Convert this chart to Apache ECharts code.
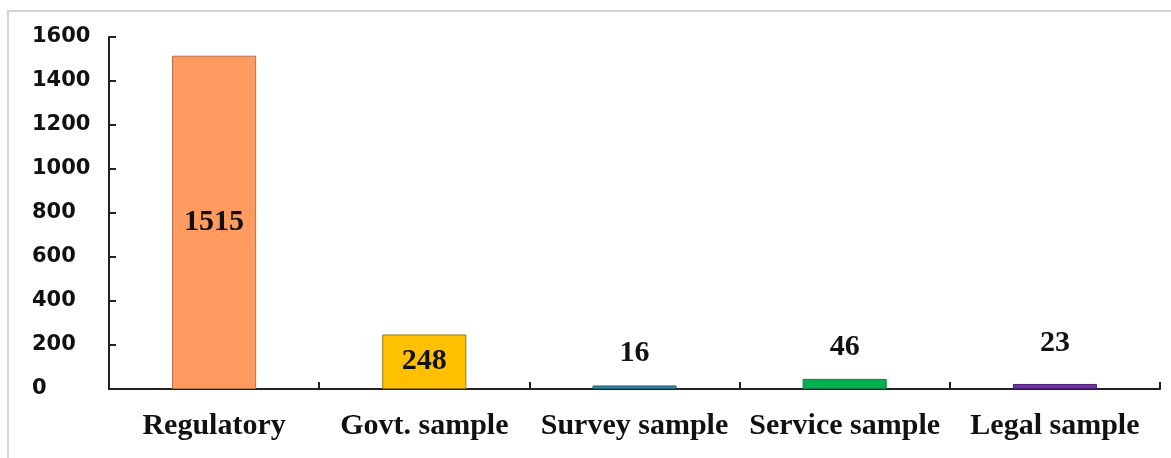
<!DOCTYPE html>
<html>
<head>
<meta charset="utf-8">
<script src="https://cdn.jsdelivr.net/npm/echarts@6/dist/echarts.min.js"></script>
<style>
  html, body { margin: 0; padding: 0; background: #fff; }
  #frame { position: absolute; left: 7px; top: 10px; width: 1164px; height: 448px;
           border-top: 2px solid #d4d4d4; border-left: 2px solid #d4d4d4; box-sizing: border-box; }
  #chart { position: absolute; left: 0; top: 0; width: 1171px; height: 458px; }
</style>
</head>
<body>
<div id="frame"></div>
<div id="chart"></div>
<script>
// Sample counts by source
const categories = ['Regulatory', 'Govt. sample', 'Survey sample', 'Service sample', 'Legal sample'];
const counts = [1515, 248, 16, 46, 23];
const yTicks = { min: 0, max: 1600, interval: 200 };

const fills   = ['#FF9A61', '#FFC000', '#2E87A4', '#00B050', '#7030A0'];
const borders = ['#B8704A', '#9A7A10', '#1F5F74', '#137A3D', '#4A2070'];

// Tall bars carry their value inside; short ones above the bar
const insideLimit = 200;

const chart = echarts.init(document.getElementById('chart'));

const seriesData = counts.map((v, i) => {
  const inside = v >= insideLimit;
  return {
    value: v,
    itemStyle: { color: fills[i], borderColor: borders[i], borderWidth: 1 },
    label: {
      show: true,
      position: inside ? 'inside' : 'top',
      distance: i === 4 ? 26 : 17
    }
  };
});

chart.setOption({
  animation: false,
  grid: { left: 109, right: 11, top: 37, bottom: 69, containLabel: false },
  xAxis: {
    type: 'category',
    data: categories,
    axisLine: { lineStyle: { color: '#222', width: 2 } },
    axisTick: { show: true, inside: true, length: 7, lineStyle: { color: '#222', width: 2 } },
    axisLabel: {
      interval: 0,
      margin: 22,
      color: '#111',
      fontFamily: '"Liberation Serif", "Times New Roman", serif',
      fontWeight: 'bold',
      fontSize: 30
    }
  },
  yAxis: {
    type: 'value',
    min: yTicks.min,
    max: yTicks.max,
    interval: yTicks.interval,
    splitLine: { show: false },
    axisLine: { show: true, lineStyle: { color: '#222', width: 2 } },
    axisTick: { show: true, inside: true, length: 7, lineStyle: { color: '#222', width: 2 } },
    axisLabel: {
      align: 'left',
      margin: 77,
      color: '#111',
      fontFamily: '"DejaVu Sans", Verdana, sans-serif',
      fontWeight: 'bold',
      fontSize: 21,
      formatter: v => String(v)
    }
  },
  series: [{
    type: 'bar',
    data: seriesData,
    barWidth: '40%',
    label: {
      color: '#111',
      fontFamily: '"Liberation Serif", "Times New Roman", serif',
      fontWeight: 'bold',
      fontSize: 30
    }
  }]
});
</script>
</body>
</html>
